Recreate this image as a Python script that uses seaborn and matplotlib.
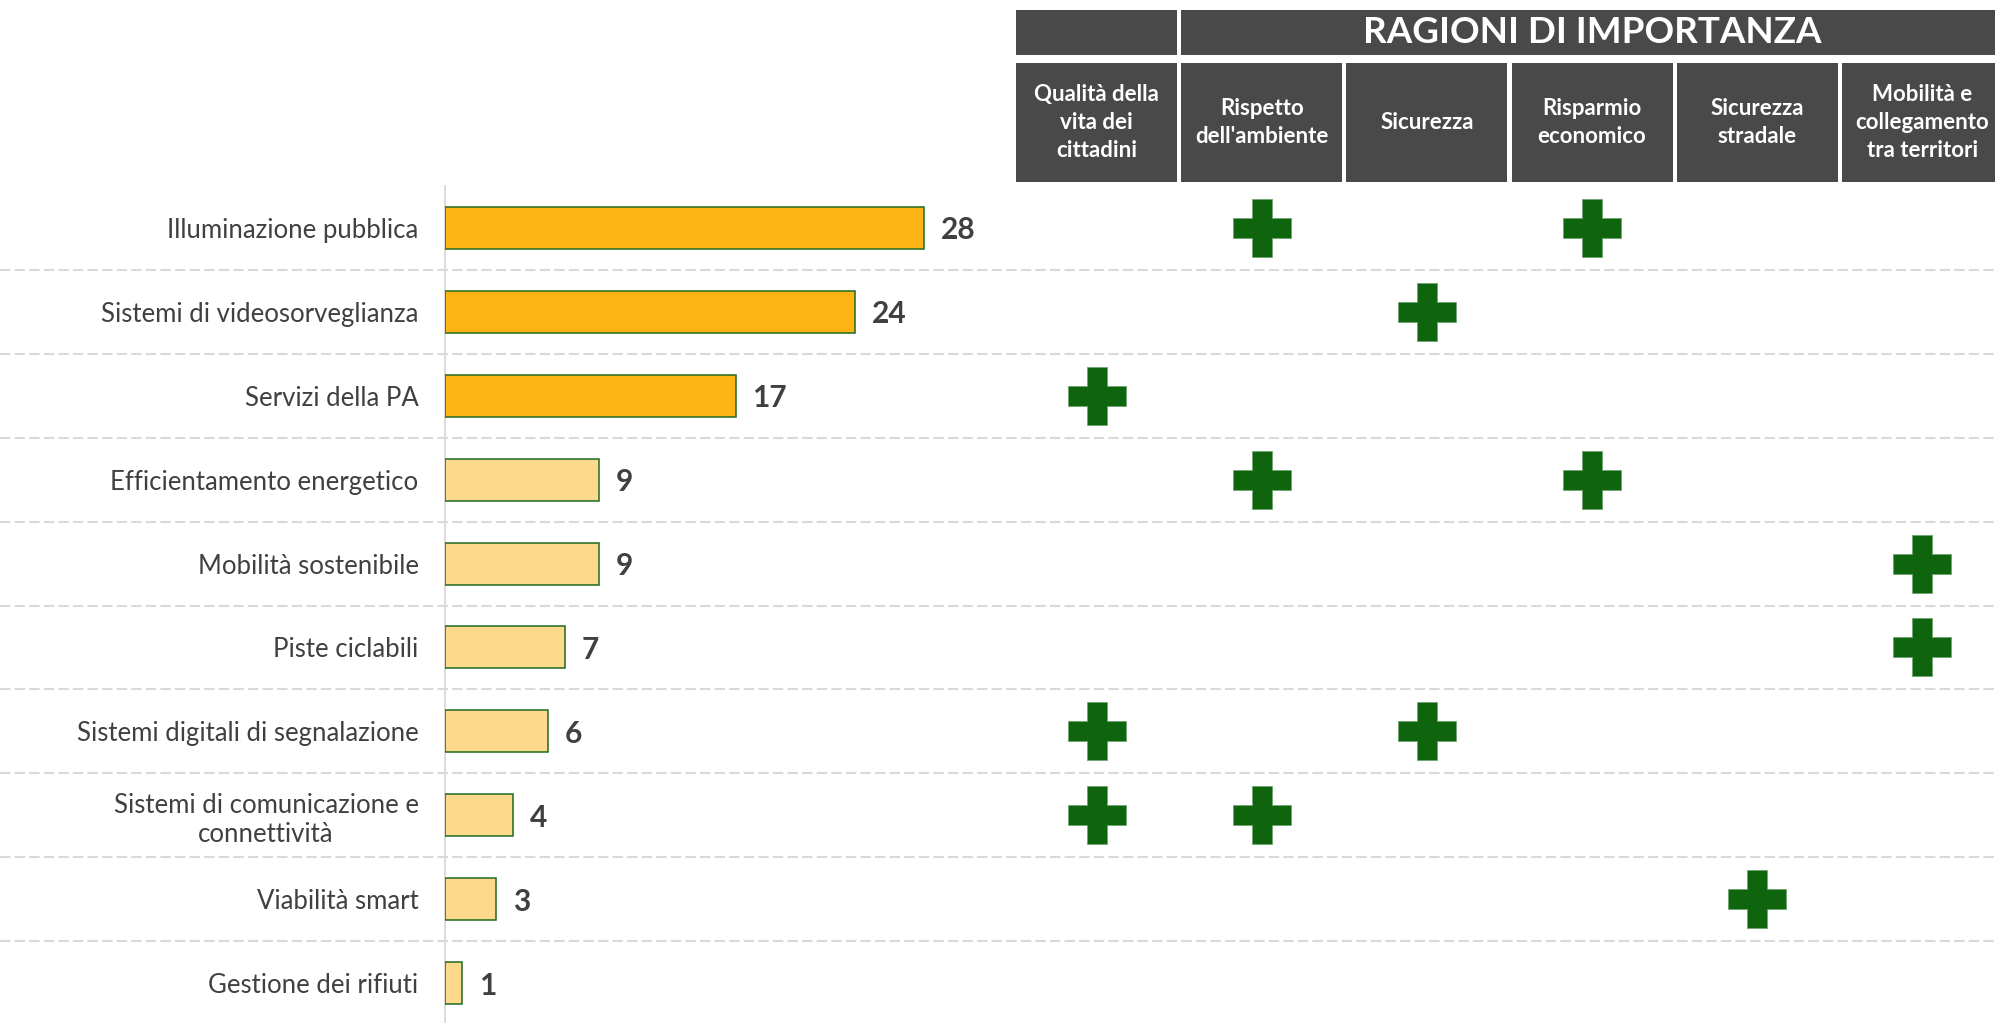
import matplotlib
matplotlib.use("Agg")
import matplotlib.pyplot as plt
from matplotlib.patches import Rectangle
from matplotlib.transforms import blended_transform_factory
import numpy as np
import pandas as pd
import seaborn as sns

# ============================================
# Dati
# ============================================
servizi = [
    "Illuminazione pubblica",
    "Sistemi di videosorveglianza",
    "Servizi della PA",
    "Efficientamento energetico",
    "Mobilità sostenibile",
    "Piste ciclabili",
    "Sistemi digitali di segnalazione",
    "Sistemi di comunicazione e\nconnettività",
    "Viabilità smart",
    "Gestione dei rifiuti",
]
valori = [28, 24, 17, 9, 9, 7, 6, 4, 3, 1]
in_evidenza = [True, True, True, False, False, False, False, False, False, False]

titolo_ragioni = "RAGIONI DI IMPORTANZA"
ragioni = [
    "Qualità della vita dei cittadini",
    "Rispetto dell'ambiente",
    "Sicurezza",
    "Risparmio economico",
    "Sicurezza stradale",
    "Mobilità e collegamento tra territori",
]
etichette_ragioni = [
    "Qualità della\nvita dei\ncittadini",
    "Rispetto\ndell'ambiente",
    "Sicurezza",
    "Risparmio\neconomico",
    "Sicurezza\nstradale",
    "Mobilità e\ncollegamento\ntra territori",
]

# servizio -> ragione di importanza (segno "+")
segni_servizio = [
    "Illuminazione pubblica", "Illuminazione pubblica",
    "Sistemi di videosorveglianza",
    "Servizi della PA",
    "Efficientamento energetico", "Efficientamento energetico",
    "Mobilità sostenibile",
    "Piste ciclabili",
    "Sistemi digitali di segnalazione", "Sistemi digitali di segnalazione",
    "Sistemi di comunicazione e\nconnettività", "Sistemi di comunicazione e\nconnettività",
    "Viabilità smart",
]
segni_ragione = [
    "Rispetto dell'ambiente", "Risparmio economico",
    "Sicurezza",
    "Qualità della vita dei cittadini",
    "Rispetto dell'ambiente", "Risparmio economico",
    "Mobilità e collegamento tra territori",
    "Mobilità e collegamento tra territori",
    "Qualità della vita dei cittadini", "Sicurezza",
    "Qualità della vita dei cittadini", "Rispetto dell'ambiente",
    "Sicurezza stradale",
]

# ============================================
# Stile
# ============================================
sns.set_theme(style="white")
plt.rcParams["font.family"] = ["Lato", "DejaVu Sans"]

TESTO = "#404040"
GRIGIO = "#494949"
LINEA = "#D9D9D9"
VERDE = "#0E650E"

W, H = 1995, 1023
fig = plt.figure(figsize=(W / 100, H / 100), dpi=100)

# ============================================
# Barre
# ============================================
df = pd.DataFrame({
    "servizio": servizi,
    "valore": valori,
    "evidenza": np.where(in_evidenza, "sì", "no"),
})

ax = fig.add_axes([445 / W, -2 / H, 1550 / W, 839 / H])
sns.barplot(
    data=df, x="valore", y="servizio", hue="evidenza",
    palette={"sì": "#FDB515", "no": "#FDD98B"}, saturation=1,
    dodge=False, width=0.5, edgecolor="#1F6B1F", linewidth=1.1,
    legend=False, orient="h", ax=ax, zorder=3,
)
ax.set_xlim(0, 1550 / 17.1)
ax.set_ylim(len(servizi) - 0.5, -0.5)
ax.set_xticks([])
ax.set_xlabel("")
ax.set_ylabel("")

ax.set_yticks(range(len(servizi)))
ax.set_yticklabels(servizi, fontsize=18.5, color=TESTO)
for lab in ax.get_yticklabels():
    lab.set_multialignment("center")
ax.tick_params(axis="y", which="major", length=0, pad=19)
ax.set_yticks(np.arange(-0.5, len(servizi), 1), minor=True)
ax.tick_params(axis="y", which="minor", length=4.5, width=1.2, color=LINEA)

for side in ["top", "right", "bottom"]:
    ax.spines[side].set_visible(False)
ax.spines["left"].set_color(LINEA)
ax.spines["left"].set_linewidth(1.3)

# linee tratteggiate tra le righe, su tutta la larghezza
ax.hlines(
    np.arange(0.5, len(servizi) - 1, 1), -445 / 1550, 1,
    transform=ax.get_yaxis_transform(), colors=LINEA,
    linestyles=(0, (5, 2)), linewidth=1.5, clip_on=False, zorder=1,
)

for i, v in enumerate(valori):
    ax.annotate(str(v), (v, i), xytext=(12, 0), textcoords="offset points",
                va="center_baseline", ha="left", fontsize=21.5,
                fontweight="bold", color=TESTO)

# ============================================
# Segni "+" per ragione di importanza
# ============================================
segni = pd.DataFrame({
    "col": [ragioni.index(r) for r in segni_ragione],
    "riga": [servizi.index(s) for s in segni_servizio],
})

ax2 = fig.add_axes([1014 / W, -2 / H, 991 / W, 839 / H])
sns.scatterplot(data=segni, x="col", y="riga", marker="P", s=1800,
                color=VERDE, edgecolor="#6FA56F", linewidth=0.6,
                legend=False, ax=ax2, zorder=4)
ax2.set_xlim(-0.5, len(ragioni) - 0.5)
ax2.set_ylim(len(servizi) - 0.5, -0.5)
ax2.patch.set_visible(False)
ax2.axis("off")

# ============================================
# Intestazione
# ============================================
tr = blended_transform_factory(ax2.transData, fig.transFigure)
g = 2 / 165

riga1_y0, riga1_h = 0.946, 0.044
riga2_y0, riga2_h = 0.822, 0.116

fig.add_artist(Rectangle((-0.5 + g, riga1_y0), 1 - 2 * g, riga1_h,
                         transform=tr, facecolor=GRIGIO, edgecolor="none",
                         zorder=2))
fig.add_artist(Rectangle((0.5 + g, riga1_y0), len(ragioni) - 1 - 2 * g, riga1_h,
                         transform=tr, facecolor=GRIGIO, edgecolor="none",
                         zorder=2))
fig.text((len(ragioni) - 1) / 2 + 0.5, riga1_y0 + riga1_h / 2, titolo_ragioni,
         transform=tr, ha="center", va="center", color="white",
         fontsize=26.5, fontweight="bold", zorder=3)

for i, lab in enumerate(etichette_ragioni):
    fig.add_artist(Rectangle((i - 0.5 + g, riga2_y0), 1 - 2 * g, riga2_h,
                             transform=tr, facecolor=GRIGIO, edgecolor="none",
                             zorder=2))
    fig.text(i, riga2_y0 + riga2_h / 2, lab, transform=tr, ha="center",
             va="center", multialignment="center", color="white",
             fontsize=16, fontweight="bold", linespacing=1.4, zorder=3)

fig.savefig("out.png", dpi=100)
